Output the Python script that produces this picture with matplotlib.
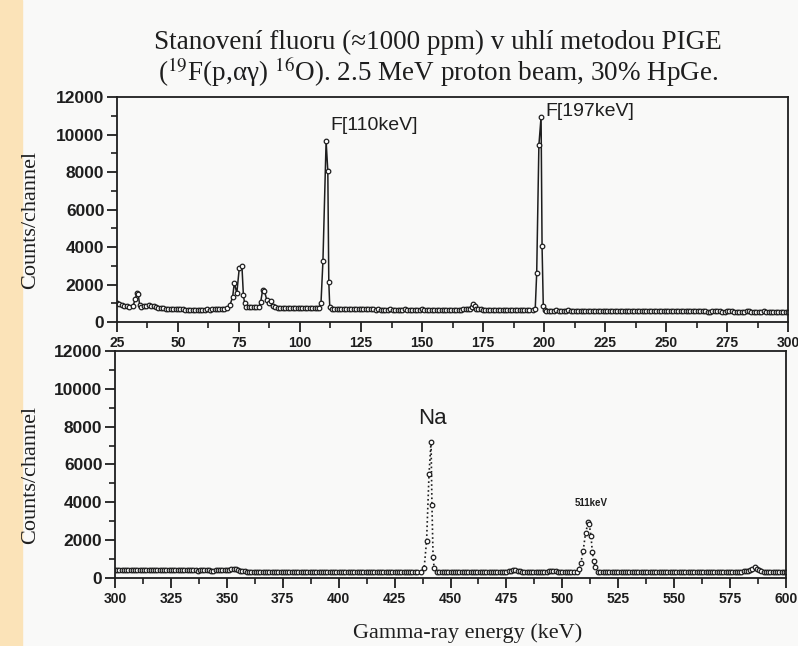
import numpy as np
import matplotlib
matplotlib.use('Agg')
import matplotlib.pyplot as plt
from matplotlib.patches import Rectangle
from matplotlib.ticker import MultipleLocator

plt.rcParams['font.family'] = ['Liberation Sans', 'DejaVu Sans']
plt.rcParams['mathtext.fontset'] = 'stix'

# ---- data ----
# upper panel: background every 1 keV (25..300 keV)
top_bg_keV = np.arange(25, 301, 1)
top_bg_counts = [
    1000, 950, 900, 860, 830, 820, 810, 800, 820, 840,
    850, 860, 880, 900, 880, 850, 800, 760, 740, 730,
    720, 710, 700, 700, 690, 680, 670, 670, 660, 650,
    650, 660, 640, 650, 660, 650, 660, 670, 660, 670,
    680, 680, 690, 700, 720, 740, 770, 790, 800, 820,
    820, 810, 800, 800, 810, 790, 800, 780, 790, 780,
    770, 780, 770, 760, 770, 760, 760, 750, 740, 740,
    730, 740, 740, 750, 760, 760, 750, 740, 740, 730,
    730, 740, 750, 760, 750, 740, 730, 720, 720, 710,
    700, 710, 710, 700, 690, 700, 720, 700, 690, 680,
    680, 670, 670, 690, 680, 670, 660, 670, 660, 650,
    650, 660, 670, 660, 660, 650, 650, 660, 670, 660,
    660, 650, 650, 660, 660, 670, 660, 650, 650, 640,
    640, 650, 660, 650, 650, 640, 640, 650, 660, 650,
    650, 660, 670, 680, 690, 720, 760, 720, 700, 680,
    660, 650, 650, 640, 640, 650, 650, 640, 640, 630,
    630, 640, 650, 640, 640, 630, 630, 640, 640, 630,
    630, 640, 640, 630, 620, 620, 610, 610, 600, 610,
    620, 610, 600, 600, 610, 620, 610, 600, 600, 610,
    600, 590, 590, 600, 610, 600, 600, 610, 600, 590,
    590, 600, 600, 610, 600, 590, 590, 580, 580, 590,
    600, 600, 590, 590, 580, 580, 590, 600, 600, 590,
    580, 580, 590, 590, 600, 590, 580, 580, 570, 570,
    580, 590, 590, 580, 580, 570, 580, 580, 590, 590,
    570, 570, 560, 560, 570, 580, 580, 570, 560, 560,
    570, 580, 570, 560, 560, 550, 550, 560, 570, 570,
    560, 560, 550, 550, 560, 570, 560, 550, 550, 540,
    540, 550, 550, 540, 540, 530,
]

# upper panel peaks (keV, counts)
top_peaks = [
    ([31.6, 32.4, 33.2, 33.7, 34.3, 35.0], [850, 1210, 1530, 1480, 900, 820]),
    ([71.3, 72.4, 73.1, 74.1, 75.1, 76.2, 76.8, 77.3, 78.0],
     [900, 1350, 2100, 1530, 2860, 2990, 1440, 1000, 820]),
    ([83.1, 83.9, 84.7, 85.4, 86.4, 87.2, 88.0, 88.8, 89.6],
     [800, 1080, 1710, 1670, 1170, 1030, 1140, 850, 780]),
    ([107.8, 108.6, 109.4, 110.7, 111.4, 111.8, 112.2, 113.0],
     [760, 1000, 3250, 9650, 8050, 2150, 800, 720]),
    ([169.8, 170.5, 171.0, 171.6, 172.3], [690, 820, 950, 880, 700]),
    ([195.6, 196.4, 197.0, 197.9, 198.8, 199.2, 199.7, 200.3],
     [640, 700, 2600, 9430, 10950, 4030, 870, 650]),
]

# lower panel: background every 1 keV (300..600 keV)
bot_bg_keV = np.arange(300, 601, 1)
bot_bg_counts = [
    430, 420, 420, 410, 420, 430, 420, 410, 420, 430,
    420, 420, 410, 410, 420, 430, 420, 410, 410, 420,
    410, 410, 420, 410, 400, 400, 410, 420, 410, 400,
    400, 410, 410, 400, 400, 410, 400, 390, 400, 400,
    400, 410, 400, 390, 390, 400, 410, 400, 410, 420,
    420, 430, 450, 500, 480, 420, 380, 360, 350, 340,
    340, 330, 330, 320, 330, 320, 320, 310, 320, 320,
    310, 320, 330, 320, 310, 320, 330, 320, 310, 310,
    310, 320, 330, 320, 310, 310, 320, 330, 320, 310,
    320, 330, 320, 310, 320, 330, 320, 310, 320, 330,
    320, 310, 320, 330, 320, 310, 310, 320, 330, 320,
    310, 320, 330, 320, 310, 320, 330, 320, 310, 320,
    320, 330, 320, 310, 320, 330, 320, 310, 320, 330,
    330, 320, 330, 340, 330, 320, 330, 330, 340, 340,
    330, 330, 320, 330, 340, 330, 320, 330, 340, 330,
    320, 330, 330, 340, 330, 320, 320, 330, 340, 330,
    330, 320, 330, 340, 330, 320, 330, 340, 340, 330,
    330, 320, 330, 340, 330, 340, 350, 370, 400, 420,
    390, 350, 330, 320, 330, 320, 330, 320, 310, 320,
    320, 330, 320, 330, 350, 380, 390, 360, 330, 320,
    330, 320, 330, 320, 330, 320, 330, 340, 330, 320,
    330, 320, 330, 320, 330, 330, 320, 330, 320, 310,
    320, 330, 320, 310, 310, 320, 330, 320, 310, 320,
    330, 320, 310, 320, 330, 320, 310, 320, 330, 320,
    310, 320, 330, 320, 310, 320, 330, 320, 310, 320,
    330, 320, 310, 320, 330, 320, 310, 320, 330, 320,
    310, 320, 330, 320, 310, 320, 330, 320, 330, 340,
    330, 320, 330, 340, 330, 320, 330, 340, 340, 330,
    340, 350, 360, 380, 420, 500, 560, 480, 400, 350,
    340, 330, 320, 330, 340, 330, 320, 330, 320, 330,
    320,
]

bot_peaks = [
    ([436.6, 438.2, 439.3, 440.4, 441.3, 441.7, 442.2, 442.7, 444.0],
     [330, 513, 1956, 5500, 7205, 3860, 1126, 513, 320]),
    ([506.5, 507.6, 508.3, 509.3, 510.4, 511.6, 512.0, 512.8, 513.4, 514.0, 514.7, 515.8],
     [330, 460, 810, 1430, 2400, 2940, 2850, 2220, 1390, 900, 565, 330]),
]


def merge(bg_x, bg_y, peaks):
    bx = np.asarray(bg_x, dtype=float)
    by = np.asarray(bg_y, dtype=float)
    keep = np.ones(len(bx), dtype=bool)
    for px, py in peaks:
        lo, hi = min(px) - 0.6, max(px) + 0.6
        keep &= ~((bx >= lo) & (bx <= hi))
    xs = list(bx[keep])
    ys = list(by[keep])
    for px, py in peaks:
        xs += px
        ys += py
    order = np.argsort(xs, kind='stable')
    return np.array(xs)[order], np.array(ys)[order]


top_x, top_y = merge(top_bg_keV, top_bg_counts, top_peaks)
bot_x, bot_y = merge(bot_bg_keV, bot_bg_counts, bot_peaks)

ink = '#1e1e1e'
fig = plt.figure(figsize=(7.98, 6.46), dpi=100, facecolor='#f9f9f8')
fig.patches.append(Rectangle((0, 0), 0.027, 1, transform=fig.transFigure,
                             color='#fbe3b8', zorder=-1))

ax1 = fig.add_axes([0.1466, 0.5015, 0.8409, 0.3483])
ax2 = fig.add_axes([0.1441, 0.1053, 0.8409, 0.3514])

ax1.plot(top_x, top_y, '-', color=ink, lw=1.1, marker='o', ms=3.3,
         mfc='white', mec=ink, mew=0.9)
ax2.plot(bot_x, bot_y, ':', color=ink, lw=1.2, marker='o', ms=3.3,
         mfc='white', mec=ink, mew=0.9)

for ax, lo, hi in [(ax1, 25, 300), (ax2, 300, 600)]:
    ax.set_facecolor('none')
    ax.set_xlim(lo, hi)
    ax.set_ylim(0, 12000)
    ax.xaxis.set_major_locator(MultipleLocator(25))
    ax.xaxis.set_minor_locator(MultipleLocator(12.5))
    ax.yaxis.set_major_locator(MultipleLocator(2000))
    ax.yaxis.set_minor_locator(MultipleLocator(1000))
    for s in ax.spines.values():
        s.set_linewidth(1.3)
        s.set_color(ink)
    ax.tick_params(which='major', direction='out', length=7, width=1.3, color=ink)
    ax.tick_params(which='minor', direction='out', length=4, width=1.2, color=ink)
    ax.tick_params(axis='y', labelsize=12.5, pad=2)
    ax.tick_params(axis='x', labelsize=10, pad=3)
    for lab in ax.get_xticklabels() + ax.get_yticklabels():
        lab.set_color(ink)
        lab.set_fontweight('bold')

ax1.text(112.3, 10500, 'F[110keV]', fontsize=14, va='center', ha='left', color=ink)
ax1.text(200.4, 11250, 'F[197keV]', fontsize=14, va='center', ha='left', color=ink)
ax2.text(442, 8450, 'Na', fontsize=16, va='center', ha='center', color=ink)
ax2.text(512.8, 3950, '511keV', fontsize=7, fontweight='bold', va='center',
         ha='center', color=ink)

serif = ['Liberation Serif', 'DejaVu Serif']
fig.text(0.038, 0.659, 'Counts/channel', rotation=90, ha='center', va='center',
         fontsize=16, family=serif, color=ink)
fig.text(0.038, 0.265, 'Counts/channel', rotation=90, ha='center', va='center',
         fontsize=16, family=serif, color=ink)
fig.text(0.586, 0.020, 'Gamma-ray energy (keV)', ha='center', va='center',
         fontsize=16, family=serif, color=ink)
fig.text(0.549, 0.935, 'Stanovení fluoru (≈1000 ppm) v uhlí metodou PIGE',
         ha='center', va='center', fontsize=19.5, family=serif, color=ink)
fig.text(0.549, 0.888, '($^{19}$F(p,αγ) $^{16}$O). 2.5 MeV proton beam, 30% HpGe.',
         ha='center', va='center', fontsize=19.5, family=serif, color=ink)

fig.savefig('out.png', dpi=100, facecolor=fig.get_facecolor())
